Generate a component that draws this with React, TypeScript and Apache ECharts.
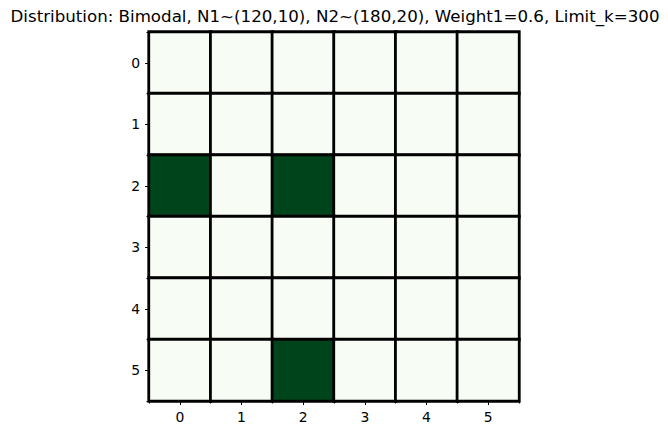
import React, { useEffect, useRef } from "react";
import * as echarts from "echarts";

const xCategories = ["0", "1", "2", "3", "4", "5"];
const yCategories = ["0", "1", "2", "3", "4", "5"];
// row-major values: rows are y (0..5), columns are x (0..5)
const row0 = [0, 0, 0, 0, 0, 0];
const row1 = [0, 0, 0, 0, 0, 0];
const row2 = [1, 0, 1, 0, 0, 0];
const row3 = [0, 0, 0, 0, 0, 0];
const row4 = [0, 0, 0, 0, 0, 0];
const row5 = [0, 0, 1, 0, 0, 0];
const rows = [row0, row1, row2, row3, row4, row5];
const titleText = "Distribution: Bimodal, N1~(120,10), N2~(180,20), Weight1=0.6, Limit_k=300";

export default function App() {
  const ref = useRef<HTMLDivElement>(null);
  useEffect(() => {
    if (!ref.current) return;
    const chart = echarts.init(ref.current, null, { renderer: "svg" });
    const data: number[][] = [];
    rows.forEach((r, yi) => r.forEach((v, xi) => data.push([xi, yi, v])));
    const font = "DejaVu Sans";
    chart.setOption({
      animation: false,
      backgroundColor: "#ffffff",
      title: {
        text: titleText,
        left: 330,
        textAlign: "center",
        top: 3,
        textStyle: { fontFamily: font, fontSize: 16.67, fontWeight: "normal", color: "#000" },
      },
      grid: { left: 149, top: 32, width: 370, height: 369 },
      xAxis: [
        {
          type: "category",
          data: xCategories,
          position: "bottom",
          axisLine: { show: true, lineStyle: { color: "#000", width: 1.5 } },
          axisTick: { show: true, alignWithLabel: true, length: 4, lineStyle: { color: "#000" } },
          axisLabel: { fontFamily: font, fontSize: 13.9, color: "#000", margin: 9 },
          splitLine: { show: false },
        },
        {
          type: "category",
          data: xCategories,
          position: "bottom",
          axisLine: { show: false },
          axisTick: { show: true, alignWithLabel: false, length: 2.5, lineStyle: { color: "#000" } },
          axisLabel: { show: false },
          splitLine: { show: false },
        },
      ],
      yAxis: [
        {
          type: "category",
          data: yCategories,
          inverse: true,
          position: "left",
          axisLine: { show: true, lineStyle: { color: "#000", width: 1.5 } },
          axisTick: { show: true, alignWithLabel: true, length: 4, lineStyle: { color: "#000" } },
          axisLabel: { fontFamily: font, fontSize: 13.9, color: "#000", margin: 9 },
          splitLine: { show: false },
        },
        {
          type: "category",
          data: yCategories,
          inverse: true,
          position: "left",
          axisLine: { show: false },
          axisTick: { show: true, alignWithLabel: false, length: 2.5, lineStyle: { color: "#000" } },
          axisLabel: { show: false },
          splitLine: { show: false },
        },
      ],
      visualMap: {
        show: false,
        min: 0,
        max: 1,
        inRange: { color: ["#f7fcf5", "#00441b"] },
      },
      series: [
        {
          type: "heatmap",
          xAxisIndex: 0,
          yAxisIndex: 0,
          data,
          itemStyle: { borderColor: "#000", borderWidth: 2.8 },
          emphasis: { disabled: true },
        },
      ],
    });
    return () => chart.dispose();
  }, []);
  return (
    <div
      ref={ref}
      style={{ position: "fixed", left: 0, top: 0, width: 668, height: 435 }}
    />
  );
}
